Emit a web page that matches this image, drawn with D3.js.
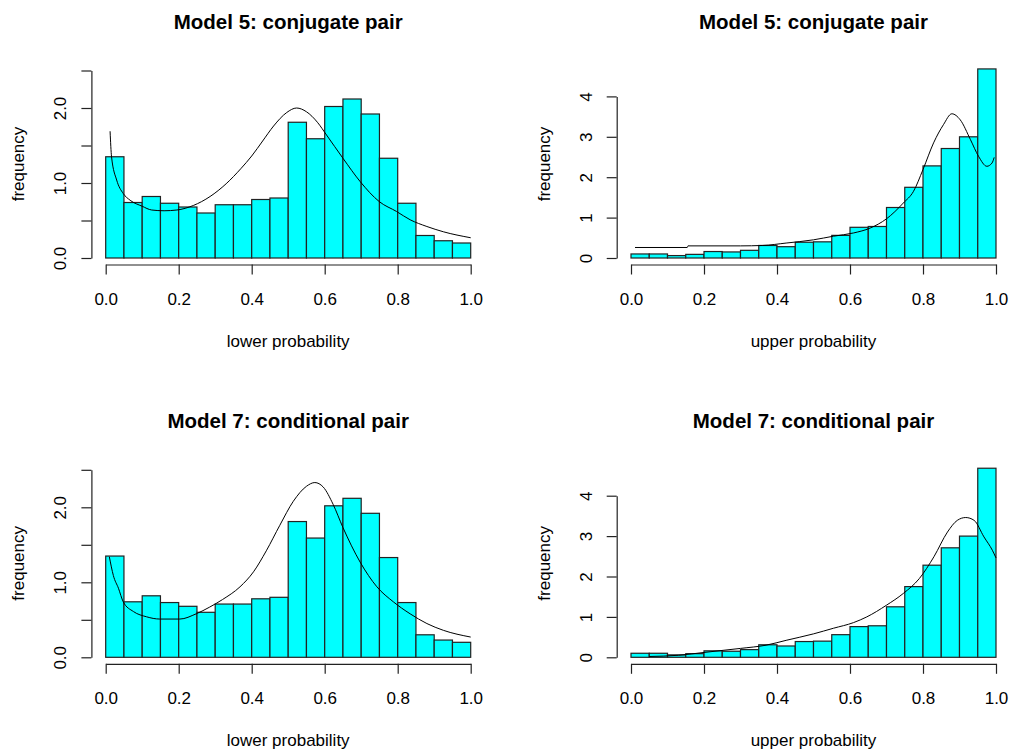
<!DOCTYPE html>
<meta charset="utf-8">
<style>
  body { margin: 0; background: #fff; }
  text { font-family: "Liberation Sans", Arial, sans-serif; fill: #000; }
</style>
<svg width="1010" height="754" id="chart"></svg>
<script src="https://d3js.org/d3.v7.min.js"></script>
<script>

// histogram bin edges (shared by all four panels)
var binEdges = [0, 0.05, 0.1, 0.15, 0.2, 0.25, 0.3, 0.35, 0.4, 0.45, 0.5,
                0.55, 0.6, 0.65, 0.7, 0.75, 0.8, 0.85, 0.9, 0.95, 1.0];

// bar heights (density)
var lowerDensity = [1.35, 0.74, 0.82, 0.73, 0.68, 0.60, 0.71, 0.71, 0.78, 0.80,
                    1.81, 1.59, 2.02, 2.12, 1.92, 1.33, 0.73, 0.30, 0.23, 0.20];
var upperDensity = [0.10, 0.10, 0.06, 0.09, 0.16, 0.15, 0.19, 0.31, 0.28, 0.39,
                    0.40, 0.56, 0.76, 0.78, 1.25, 1.75, 2.28, 2.71, 3.00, 4.68];

// fitted curves [x, density]
var m5Lower = [[0.012,1.69],[0.016,1.35],[0.03,1.04],[0.048,0.86],[0.067,0.77],[0.1,0.69],
  [0.126,0.64],[0.16,0.63],[0.195,0.64],[0.24,0.70],[0.286,0.82],[0.33,0.99],[0.37,1.19],
  [0.4,1.36],[0.43,1.56],[0.46,1.76],[0.496,1.94],[0.523,2.0],[0.55,1.95],[0.58,1.81],
  [0.605,1.64],[0.65,1.33],[0.697,1.02],[0.75,0.75],[0.797,0.62],[0.834,0.51],[0.88,0.42],
  [0.925,0.35],[1.0,0.27]];
var m5Upper = [[0.011,0.26],[0.154,0.26],[0.156,0.30],[0.3,0.30],[0.36,0.31],[0.425,0.37],
  [0.5,0.45],[0.555,0.54],[0.61,0.62],[0.655,0.74],[0.7,0.97],[0.746,1.36],[0.774,1.65],
  [0.8,2.19],[0.829,2.85],[0.856,3.30],[0.879,3.57],[0.902,3.42],[0.93,2.93],[0.952,2.52],
  [0.975,2.27],[0.989,2.35],[0.995,2.49]];
var m7Lower = [[0.01,1.34],[0.021,1.09],[0.035,0.92],[0.048,0.74],[0.076,0.61],[0.112,0.54],
  [0.148,0.51],[0.203,0.51],[0.248,0.58],[0.285,0.67],[0.32,0.77],[0.368,0.94],[0.405,1.14],
  [0.44,1.42],[0.477,1.76],[0.514,2.08],[0.55,2.28],[0.573,2.33],[0.596,2.27],[0.623,2.04],
  [0.65,1.73],[0.697,1.27],[0.743,0.94],[0.788,0.74],[0.834,0.58],[0.88,0.45],[0.925,0.36],
  [1.0,0.27]];
var m7Upper = [[0.05,0.02],[0.13,0.05],[0.2,0.12],[0.3,0.22],[0.37,0.30],[0.425,0.42],
  [0.5,0.58],[0.555,0.72],[0.61,0.86],[0.646,1.0],[0.7,1.29],[0.746,1.58],[0.79,1.95],
  [0.83,2.49],[0.867,3.10],[0.894,3.39],[0.917,3.46],[0.94,3.39],[0.967,2.98],[0.99,2.65],
  [1.0,2.46]];

var xTicks = [0, 0.2, 0.4, 0.6, 0.8, 1.0];
var lowerYTicks = [0, 0.5, 1.0, 1.5, 2.0, 2.5];
var upperYTicks = [0, 1, 2, 3, 4];

var panels = [
  {title: "Model 5: conjugate pair", xlab: "lower probability", dens: lowerDensity, curve: m5Lower,
   col: 0, row: 0, ymax: 2.5, ticks: lowerYTicks, fmt: d => (d % 1 === 0 ? d.toFixed(1) : "")},
  {title: "Model 5: conjugate pair", xlab: "upper probability", dens: upperDensity, curve: m5Upper,
   col: 1, row: 0, ymax: 4.68, ticks: upperYTicks, fmt: d => d},
  {title: "Model 7: conditional pair", xlab: "lower probability", dens: lowerDensity, curve: m7Lower,
   col: 0, row: 1, ymax: 2.5, ticks: lowerYTicks, fmt: d => (d % 1 === 0 ? d.toFixed(1) : "")},
  {title: "Model 7: conditional pair", xlab: "upper probability", dens: upperDensity, curve: m7Upper,
   col: 1, row: 1, ymax: 4.68, ticks: upperYTicks, fmt: d => d}
];

var colX = [[105.7, 470.7], [631, 996]];
var rowOff = 399.3;
var svg = d3.select("#chart");

panels.forEach(function(p) {
  var base = 258 + p.row * rowOff;
  var x = d3.scaleLinear().domain([0, 1]).range(colX[p.col]);
  var perUnit = p.col == 0 ? 75 : 40.4;
  var y = d3.scaleLinear().domain([0, p.ymax]).range([base, base - p.ymax * perUnit]);
  var axX = x(0) - 14.3;
  var axY = base + 6.5;

  var g = svg.append("g");

  // bars
  g.selectAll(".bar").data(p.dens).enter().append("rect")
    .attr("x", (d, i) => x(binEdges[i]))
    .attr("width", (d, i) => x(binEdges[i + 1]) - x(binEdges[i]))
    .attr("y", d => y(d))
    .attr("height", d => base - y(d))
    .attr("fill", "#00ffff")
    .attr("stroke", "#222")
    .attr("stroke-width", 1.2);

  // fitted density
  var line = d3.line().x(d => x(d[0])).y(d => y(d[1])).curve(d3.curveMonotoneX);
  g.append("path").datum(p.curve)
    .attr("d", line)
    .attr("fill", "none")
    .attr("stroke", "#000")
    .attr("stroke-width", 1);

  // x axis
  var xa = g.append("g").attr("transform", "translate(0," + axY + ")")
    .call(d3.axisBottom(x).tickValues(xTicks).tickSize(10).tickSizeOuter(0).tickFormat(d3.format(".1f")));
  xa.selectAll("text").attr("y", 40).attr("dy", 0).style("font-size", "17px");

  // y axis (line only over tick range)
  var yAxisScale = d3.scaleLinear().domain([0, d3.max(p.ticks)]).range([y(0), y(d3.max(p.ticks))]);
  var ya = g.append("g").attr("transform", "translate(" + axX + ",0)")
    .call(d3.axisLeft(yAxisScale).tickValues(p.ticks).tickSize(10).tickSizeOuter(0).tickFormat(p.fmt));
  ya.selectAll("text")
    .attr("transform", "rotate(-90)")
    .attr("text-anchor", "middle")
    .attr("x", 0).attr("dy", 0).attr("y", -25)
    .style("font-size", "17px");
  g.selectAll(".domain, .tick line").attr("stroke", "#222").attr("stroke-width", 1.2);
  g.selectAll(".tick text").attr("fill", "#000").attr("font-family", null);

  // labels
  var cx = x(0.5);
  g.append("text").attr("x", cx).attr("y", 29 + p.row * rowOff)
    .attr("text-anchor", "middle").style("font-size", "20.5px").style("font-weight", "bold")
    .text(p.title);
  g.append("text").attr("x", cx).attr("y", base + 89)
    .attr("text-anchor", "middle").style("font-size", "17px")
    .text(p.xlab);
  g.append("text")
    .attr("transform", "translate(" + (axX - 67) + "," + (base - 94) + ") rotate(-90)")
    .attr("text-anchor", "middle").style("font-size", "17px")
    .text("frequency");
});

</script>
